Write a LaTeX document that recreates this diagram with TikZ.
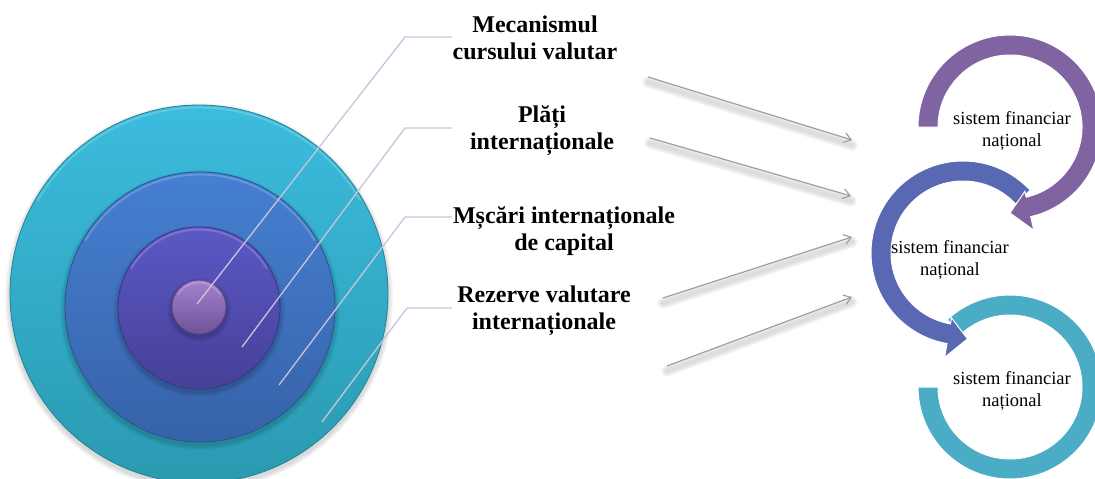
\documentclass[tikz,border=0pt]{standalone}
\usepackage{fontspec}
\setmainfont{Liberation Serif}
\usetikzlibrary{arrows.meta,calc}

\definecolor{leadc}{RGB}{200,196,220}
\definecolor{flowc}{RGB}{155,155,155}
\definecolor{ringp}{RGB}{128,100,162}
\definecolor{ringb}{RGB}{88,104,178}
\definecolor{ringt}{RGB}{75,172,198}
\definecolor{d1top}{RGB}{60,188,222}
\definecolor{d1bot}{RGB}{42,154,176}
\definecolor{d2top}{RGB}{70,128,210}
\definecolor{d2bot}{RGB}{54,98,168}
\definecolor{d3top}{RGB}{92,88,198}
\definecolor{d3bot}{RGB}{70,64,150}
\definecolor{d4top}{RGB}{164,128,208}
\definecolor{d4bot}{RGB}{110,84,150}

% bevelled disc: #1 x, #2 y, #3 radius, #4 top colour, #5 bottom colour
\newcommand\bevelDisc[5]{%
  \foreach \k in {1,...,5}
    \fill[black, opacity=.03] (#1,#2+3) circle ({#3+\k});
  \shade[top color=#4, bottom color=#5] (#1,#2) circle (#3);
  \draw[#5!85!black, line width=.8pt] (#1,#2) circle (#3);
  \draw[white, opacity=.18, line width=2pt]
    ($(#1,#2)+(-150:#3-2.5)$) arc[start angle=-150, end angle=-30, radius=#3-2.5];
}

\begin{document}
\begin{tikzpicture}[x=1pt,y=-1pt,
  lbl/.style={font=\bfseries\fontsize{24}{27}\selectfont, align=center, inner sep=0pt},
  ringtxt/.style={font=\fontsize{18.5}{21.5}\selectfont, align=center, inner sep=0pt},
  leader/.style={draw=leadc, line width=1.3pt},
  flow/.style={draw=flowc, line width=1.1pt, -{Straight Barb[length=7pt,width=10pt]}},
  ringedge/.style={draw=white, line width=1pt}]

\useasboundingbox (0,0) rectangle (1095,479);
\clip (0,0) rectangle (1095,479);

% concentric discs
\bevelDisc{199}{294}{189}{d1top}{d1bot}
\bevelDisc{200}{307}{135}{d2top}{d2bot}
\bevelDisc{199}{308}{81}{d3top}{d3bot}
\bevelDisc{199}{307}{27}{d4top}{d4bot}

% level labels
\node[lbl] (m1) at (535,38)  {Mecanismul\\cursului valutar};
\node[lbl] (m2) at (542,131) {Plăți\\internaționale};
\node[lbl] (m3) at (564,231) {Mșcări internaționale\\de capital};
\node[lbl] (m4) at (544,311) {Rezerve valutare\\internaționale};

% leader lines from the rings to the labels
\coordinate (p1) at (197,304); \coordinate (k1) at (405,37);  \coordinate (e1) at (452,37);
\coordinate (p2) at (242,347); \coordinate (k2) at (405,128); \coordinate (e2) at (452,128);
\coordinate (p3) at (279,385); \coordinate (k3) at (405,217); \coordinate (e3) at (452,217);
\coordinate (p4) at (322,422); \coordinate (k4) at (407,308); \coordinate (e4) at (452,308);
\foreach \i in {1,...,4}
  \draw[leader] (p\i) -- (k\i) -- (e\i);

% flow arrows towards the national systems, with a soft drop shadow
\coordinate (a1s) at (648,77);  \coordinate (a1e) at (852,140);
\coordinate (a2s) at (650,138); \coordinate (a2e) at (851,196);
\coordinate (a3s) at (663,298); \coordinate (a3e) at (852,237);
\coordinate (a4s) at (667,366); \coordinate (a4e) at (852,297);
\foreach \s/\e in {a1s/a1e,a2s/a2e,a3s/a3e,a4s/a4e}{
  \foreach \w in {12,10,8,6,4}
    \draw[black, opacity=.028, line width=\w pt, line cap=round,
          transform canvas={yshift=-5pt}] (\s) -- (\e);
  \draw[flow] (\s) -- (\e);
}

% circular arrows
\coordinate (P) at (1010,127);
\coordinate (B) at (963,253);
\coordinate (T) at (1010,387);

\filldraw[fill=ringt, ringedge]
  ($(T)+(-133:92)$) arc[start angle=-133, end angle=180, radius=92]
  -- ($(T)+(180:72)$) arc[start angle=180, end angle=-133, radius=72] -- cycle;

\filldraw[fill=ringb, ringedge]
  ($(B)+(-43:92)$) arc[start angle=-43, end angle=-260, radius=92]
  -- ($(B)+(-260:106)$) -- ($(B)+(-273:86)$) -- ($(B)+(-260:66)$)
  -- ($(B)+(-260:72)$) arc[start angle=-260, end angle=-43, radius=72] -- cycle;

\filldraw[fill=ringp, ringedge]
  ($(P)+(-180:92)$) arc[start angle=-180, end angle=77, radius=92]
  -- ($(P)+(77:106)$) -- ($(P)+(90:86)$) -- ($(P)+(77:66)$)
  -- ($(P)+(77:72)$) arc[start angle=77, end angle=-180, radius=72] -- cycle;

\node[ringtxt] (r1) at (1012,131) {sistem financiar\\național};
\node[ringtxt] (r2) at (950,260)  {sistem financiar\\național};
\node[ringtxt] (r3) at (1012,391) {sistem financiar\\național};

\end{tikzpicture}
\end{document}
